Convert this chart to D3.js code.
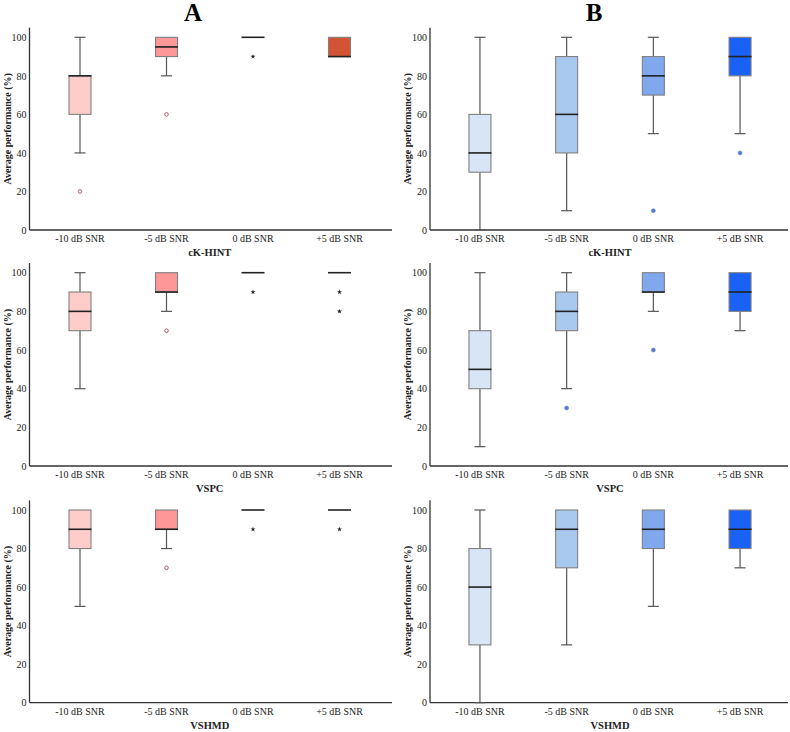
<!DOCTYPE html>
<html><head><meta charset="utf-8">
<script src="https://cdn.jsdelivr.net/npm/d3@7"></script>
<style>body{margin:0;background:#fff}svg{display:block}</style>
</head><body><svg id="c" width="790" height="732"></svg>
<script>
const categories = ["-10 dB SNR", "-5 dB SNR", "0 dB SNR", "+5 dB SNR"];
const yTicks = [0, 20, 40, 60, 80, 100];
const tests = ["cK-HINT", "VSPC", "VSHMD"];
const groupTitles = ["A", "B"];
const colorsA = ["#ffcccc", "#fe9898", "#fe9898", "#d35434"];
const colorsB = ["#d8e5f6", "#a8c8ee", "#80a8ee", "#1a62f5"];

// [low, q1, median, q3, high] per category
const statsA_cKHINT = [[40,60,80,80,100],[80,90,95,100,100],[100,100,100,100,100],[90,90,90,100,100]];
const statsA_VSPC   = [[40,70,80,90,100],[80,90,90,100,100],[100,100,100,100,100],[100,100,100,100,100]];
const statsA_VSHMD  = [[50,80,90,100,100],[80,90,90,100,100],[100,100,100,100,100],[100,100,100,100,100]];
const statsB_cKHINT = [[0,30,40,60,100],[10,40,60,90,100],[50,70,80,90,100],[50,80,90,100,100]];
const statsB_VSPC   = [[10,40,50,70,100],[40,70,80,90,100],[80,90,90,100,100],[70,80,90,100,100]];
const statsB_VSHMD  = [[0,30,60,80,100],[30,70,90,100,100],[50,80,90,100,100],[70,80,90,100,100]];

// outliers (circles) and extremes (stars): [categoryIndex, value]
const outA_cKHINT = [[0,20],[1,60]];   const extA_cKHINT = [[2,90]];
const outA_VSPC   = [[1,70]];          const extA_VSPC   = [[2,90],[3,90],[3,80]];
const outA_VSHMD  = [[1,70]];          const extA_VSHMD  = [[2,90],[3,90]];
const outB_cKHINT = [[2,10],[3,40]];   const extB_cKHINT = [];
const outB_VSPC   = [[1,30],[2,60]];   const extB_VSPC   = [];
const outB_VSHMD  = [];                const extB_VSHMD  = [];

const panels = [
  [statsA_cKHINT, outA_cKHINT, extA_cKHINT, 0, 0],
  [statsB_cKHINT, outB_cKHINT, extB_cKHINT, 1, 0],
  [statsA_VSPC, outA_VSPC, extA_VSPC, 0, 1],
  [statsB_VSPC, outB_VSPC, extB_VSPC, 1, 1],
  [statsA_VSHMD, outA_VSHMD, extA_VSHMD, 0, 2],
  [statsB_VSHMD, outB_VSHMD, extB_VSHMD, 1, 2],
];

const FONT = '"Liberation Serif", "Times New Roman", serif';
const svg = d3.select("#c");
const colAxisX = [29.5, 430];
const colBand = [[36.75, 382.75], [436.6, 783.4]];
const colEnd = [392, 788];
const rowY0 = [230, 466, 702.7];
const rowY100 = [37.3, 272.7, 510];

[193, 594].forEach((x, i) => {
  svg.append("text").attr("x", x).attr("y", 21).attr("text-anchor", "middle")
    .attr("font-size", 25).attr("font-weight", "bold").text(groupTitles[i]);
});

panels.forEach(([stats, outs, exts, col, row]) => {
  const g = svg.append("g");
  const y = d3.scaleLinear().domain([0, 100]).range([rowY0[row], rowY100[row]]);
  const x = d3.scaleBand().domain(categories).range(colBand[col]);
  const colors = col === 0 ? colorsA : colorsB;
  const ax = colAxisX[col];
  const bw = 22;

  g.append("line").attr("x1", ax).attr("x2", ax).attr("y1", y(105)).attr("y2", y(0))
    .attr("stroke", "#333").attr("stroke-width", 1.3);
  g.append("line").attr("x1", ax).attr("x2", colEnd[col]).attr("y1", y(0)).attr("y2", y(0))
    .attr("stroke", "#333").attr("stroke-width", 1.3);

  const ya = g.append("g").attr("transform", `translate(${ax},0)`)
    .call(d3.axisLeft(y).tickValues(yTicks).tickSize(0).tickPadding(3));
  ya.select(".domain").remove();
  ya.selectAll("text").attr("font-size", 10).attr("fill", "#222");

  const xa = g.append("g").attr("transform", `translate(0,${y(0)})`)
    .call(d3.axisBottom(x).tickSize(0).tickPadding(5));
  xa.select(".domain").remove();
  xa.selectAll("text").attr("font-size", 10).attr("fill", "#222");

  const cy = (y(0) + y(105)) / 2;
  g.append("text").attr("transform", `translate(${ax - 19},${cy}) rotate(-90)`)
    .attr("text-anchor", "middle").attr("font-size", 10).attr("font-weight", "bold")
    .attr("fill", "#222").text("Average performance (%)");

  g.append("text").attr("x", (colBand[col][0] + colBand[col][1]) / 2).attr("y", y(0) + 26)
    .attr("text-anchor", "middle").attr("font-size", 10.5).attr("font-weight", "bold")
    .attr("fill", "#222").text(tests[row]);

  stats.forEach((s, i) => {
    const cx = x(categories[i]) + x.bandwidth() / 2;
    const [lo, q1, med, q3, hi] = s;
    if (lo < q1) {
      g.append("line").attr("x1", cx).attr("x2", cx).attr("y1", y(lo)).attr("y2", y(q1)).attr("stroke", "#555").attr("stroke-width", 1.2);
      g.append("line").attr("x1", cx - bw / 4).attr("x2", cx + bw / 4).attr("y1", y(lo)).attr("y2", y(lo)).attr("stroke", "#555").attr("stroke-width", 1.2);
    }
    if (hi > q3) {
      g.append("line").attr("x1", cx).attr("x2", cx).attr("y1", y(hi)).attr("y2", y(q3)).attr("stroke", "#555").attr("stroke-width", 1.2);
      g.append("line").attr("x1", cx - bw / 4).attr("x2", cx + bw / 4).attr("y1", y(hi)).attr("y2", y(hi)).attr("stroke", "#555").attr("stroke-width", 1.2);
    }
    if (q3 > q1) {
      g.append("rect").attr("x", cx - bw / 2).attr("y", y(q3)).attr("width", bw).attr("height", y(q1) - y(q3))
        .attr("fill", colors[i]).attr("stroke", "#808080").attr("stroke-width", 1.1);
    }
    g.append("line").attr("x1", cx - bw / 2 - 0.5).attr("x2", cx + bw / 2 + 0.5).attr("y1", y(med)).attr("y2", y(med))
      .attr("stroke", "#222").attr("stroke-width", 1.6);
  });

  outs.forEach(([i, v]) => {
    const cx = x(categories[i]) + x.bandwidth() / 2;
    if (col === 0) {
      g.append("circle").attr("cx", cx).attr("cy", y(v)).attr("r", 1.8)
        .attr("fill", "#fff").attr("stroke", "#b05a68").attr("stroke-width", 1);
    } else {
      g.append("circle").attr("cx", cx).attr("cy", y(v)).attr("r", 2)
        .attr("fill", "#4f78d0").attr("stroke", "#6a8bd8").attr("stroke-width", 0.6);
    }
  });
  exts.forEach(([i, v]) => {
    const cx = x(categories[i]) + x.bandwidth() / 2;
    g.append("path").attr("d", d3.symbol(d3.symbolStar, 8)())
      .attr("transform", `translate(${cx},${y(v)})`).attr("fill", "#222");
  });
});

svg.selectAll("g").attr("font-family", null);
svg.selectAll("text").style("font-family", FONT);
</script></body></html>
